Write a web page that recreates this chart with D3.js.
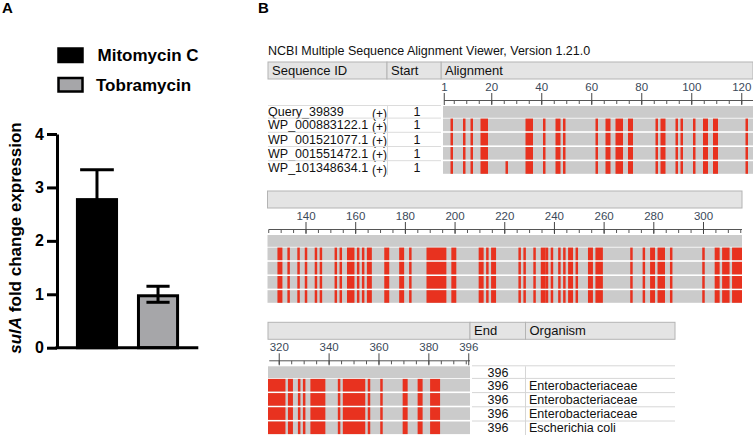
<!DOCTYPE html>
<html>
<head>
<meta charset="utf-8">
<script src="https://cdn.jsdelivr.net/npm/d3@7"></script>
<style>
  body { margin: 0; background: #fff; }
  text { font-family: "Liberation Sans", Arial, Helvetica, sans-serif; }
</style>
</head>
<body>
<svg id="fig" width="753" height="435"></svg>
<script>
// ---- panel A data
var treatments = ["Mitomycin C", "Tobramycin"];
var foldChange = [2.8, 1.0];
var foldErr = [0.53, 0.15];
var yTicks = [0, 1, 2, 3, 4];

// ---- panel B data
var seqIds = ["Query_39839", "WP_000883122.1", "WP_001521077.1", "WP_001551472.1", "WP_101348634.1"];
var seqStart = [1, 1, 1, 1, 1];
var seqEnd = [396, 396, 396, 396, 396];
var organisms = ["", "Enterobacteriaceae", "Enterobacteriaceae", "Enterobacteriaceae", "Escherichia coli"];
// mismatching stretches [from, to] shared by all hits
var sharedDiffs = [[4,4],[9,9],[12,12],[16,18],[34,36],[41,41],[46,47],[49,49],[62,62],[66,67],[70,72],[75,76],
  [86,86],[88,89],[94,94],[96,96],[101,101],[105,106],[109,110],[122,122],
  [129,130],[133,133],[137,137],[140,140],[144,144],[146,146],[152,152],[154,154],[157,159],[161,161],[163,163],
  [165,166],[172,173],[178,179],[182,182],[189,196],[199,200],[210,211],[213,213],[215,216],
  [226,226],[228,228],[232,232],[235,236],[237,237],[239,239],[242,242],[244,244],[246,247],[249,249],[254,255],
  [257,259],[271,271],[276,276],[279,280],[282,284],[287,287],[300,300],[305,306],[308,310],[312,315],
  [316,322],[324,325],[328,328],[330,330],[333,338],[344,344],[346,354],[356,356],[361,361],[370,371],[376,377],[381,384]];
var extraDiffs = [[], [], [], [], [[26, 26]]];
var sections = [[1, 124], [125, 315], [316, 396]];
var sectionLabels = [[1, 20, 40, 60, 80, 100, 120], [140, 160, 180, 200, 220, 240, 260, 280, 300], [320, 340, 360, 380, 396]];

var svg = d3.select("#fig");

// ================= panel A =================
var gA = svg.append("g");

gA.append("text").attr("x", 2).attr("y", 13).attr("font-size", 15).attr("font-weight", "bold").text("A");

var y = d3.scaleLinear().domain([0, 4]).range([347.7, 134]);
var x = d3.scaleBand().domain(treatments).range([57, 198]).paddingInner(0.31).paddingOuter(0.31);
var fills = ["#000", "#a6a6a9"];
var capW = [0.8, 0.55];

// legend
treatments.forEach(function (t, i) {
  gA.append("rect")
    .attr("x", 58.5).attr("y", 48.5 + i * 29.5).attr("width", 24).attr("height", 13.5)
    .attr("fill", fills[i]).attr("stroke", "#000").attr("stroke-width", 2.5);
  gA.append("text")
    .attr("x", i === 0 ? 97.5 : 96).attr("y", 61 + i * 29.5)
    .attr("font-size", 17).attr("font-weight", "bold").text(t);
});

// bars
gA.selectAll("rect.bar").data(treatments).enter().append("rect")
  .attr("class", "bar")
  .attr("x", function (d) { return x(d) + 1.5; })
  .attr("width", x.bandwidth() - 3)
  .attr("y", function (d, i) { return y(foldChange[i]) + 1.5; })
  .attr("height", function (d, i) { return y(0) - y(foldChange[i]) - 1.5; })
  .attr("fill", function (d, i) { return fills[i]; })
  .attr("stroke", "#000").attr("stroke-width", 3);

// error bars
treatments.forEach(function (t, i) {
  var cx = x(t) + x.bandwidth() / 2;
  var hw = x.bandwidth() * capW[i] / 2;
  var top = y(foldChange[i] + foldErr[i]), bot = y(foldChange[i] - foldErr[i]);
  gA.append("line").attr("x1", cx).attr("x2", cx).attr("y1", top).attr("y2", bot)
    .attr("stroke", "#000").attr("stroke-width", 3);
  [top, bot].forEach(function (yy) {
    gA.append("line").attr("x1", cx - hw).attr("x2", cx + hw).attr("y1", yy).attr("y2", yy)
      .attr("stroke", "#000").attr("stroke-width", 3);
  });
});

// axes
var yAxis = gA.append("g").attr("transform", "translate(57,0)")
  .call(d3.axisLeft(y).tickValues(yTicks).tickSize(10).tickSizeOuter(0).tickPadding(3).tickFormat(d3.format("d")));
yAxis.selectAll("path, line").attr("stroke", "#000").attr("stroke-width", 3);
yAxis.selectAll("text").attr("font-size", 16).attr("font-weight", "bold").attr("fill", "#000")
  .style("font-family", "'Liberation Sans', Arial, sans-serif");

gA.append("line").attr("x1", 55.5).attr("x2", 198.3).attr("y1", y(0)).attr("y2", y(0))
  .attr("stroke", "#000").attr("stroke-width", 3);

var ylab = gA.append("text")
  .attr("transform", "translate(21,238) rotate(-90)")
  .attr("text-anchor", "middle").attr("font-size", 17).attr("font-weight", "bold");
ylab.append("tspan").attr("font-style", "italic").text("sulA");
ylab.append("tspan").text(" fold change expression");

// ================= panel B =================
var gB = svg.append("g");
gB.append("text").attr("x", 258).attr("y", 13).attr("font-size", 15).attr("font-weight", "bold").text("B");
gB.append("text").attr("x", 268).attr("y", 55).attr("font-size", 12.5).attr("fill", "#111")
  .text("NCBI Multiple Sequence Alignment Viewer, Version 1.21.0");

var secTop = [62, 191, 322.3];
var secX = [[443, 753], [267.5, 742], [268, 470]];
var headFill = "#e4e4e4", headStroke = "#b4b4b4";
var grey = "#cbcbcb", red = "#e8321f";

function rowTop(H, i) { return i === 0 ? H + 44 : H + 56.6 + (i - 1) * 14.2; }
function rowH(i) { return i === 0 ? 11.8 : 12.6; }

function headerCell(x0, x1, H, label) {
  gB.append("rect").attr("x", x0).attr("y", H).attr("width", x1 - x0).attr("height", 17)
    .attr("fill", headFill).attr("stroke", headStroke).attr("stroke-width", 1);
  if (label) gB.append("text").attr("x", x0 + 4).attr("y", H + 13).attr("font-size", 13).attr("fill", "#111").text(label);
}

sections.forEach(function (sec, s) {
  var H = secTop[s];
  var xs = d3.scaleLinear().domain([sec[0] - 0.5, sec[1] + 0.5]).range(secX[s]);
  var g = gB.append("g");

  // header bar over alignment
  headerCell(s === 0 ? 441 : secX[s][0], secX[s][1], H, s === 0 ? "Alignment" : "");

  // ruler
  var axY = H + 38.5;
  g.append("line").attr("x1", xs(sec[0])).attr("x2", secX[s][1]).attr("y1", axY).attr("y2", axY)
    .attr("stroke", "#555").attr("stroke-width", 1);
  var minor = d3.range(Math.ceil(sec[0] / 5) * 5, sec[1] + 1, 5);
  g.selectAll("line.minor").data(minor).enter().append("line")
    .attr("x1", function (d) { return xs(d); }).attr("x2", function (d) { return xs(d); })
    .attr("y1", axY).attr("y2", axY + 3.5).attr("stroke", "#555");
  g.selectAll("line.major").data(sectionLabels[s]).enter().append("line")
    .attr("x1", function (d) { return xs(d); }).attr("x2", function (d) { return xs(d); })
    .attr("y1", axY - 7.5).attr("y2", axY + 4.5).attr("stroke", "#444");
  g.selectAll("text.tk").data(sectionLabels[s]).enter().append("text")
    .attr("x", function (d) { return xs(d); }).attr("y", H + 29)
    .attr("text-anchor", function (d) { return d === 1 ? "start" : "middle"; })
    .attr("dx", function (d) { return d === 1 ? -3 : 0; })
    .attr("font-size", 11.5).attr("fill", "#3b4a5a").text(function (d) { return d; });

  // sequence rows
  seqIds.forEach(function (id, i) {
    var ty = rowTop(H, i);
    g.append("rect").attr("x", secX[s][0]).attr("y", ty).attr("width", secX[s][1] - secX[s][0]).attr("height", rowH(i))
      .attr("fill", grey);
    if (i === 0) return;
    var diffs = sharedDiffs.concat(extraDiffs[i]).filter(function (d) { return d[1] >= sec[0] && d[0] <= sec[1]; });
    g.selectAll("rect.d" + i).data(diffs).enter().append("rect")
      .attr("x", function (d) { return xs(Math.max(d[0], sec[0]) - 0.5); })
      .attr("width", function (d) { return xs(Math.min(d[1], sec[1]) + 0.5) - xs(Math.max(d[0], sec[0]) - 0.5); })
      .attr("y", ty).attr("height", rowH(i)).attr("fill", red);
  });
});

// sequence id / start columns (section 1)
(function () {
  var H = secTop[0];
  headerCell(268, 387, H, "Sequence ID");
  headerCell(387, 441, H, "Start");
  seqIds.forEach(function (id, i) {
    var ty = rowTop(H, i), cy = ty + rowH(i) / 2;
    gB.append("line").attr("x1", 268).attr("x2", 441).attr("y1", ty - 0.5).attr("y2", ty - 0.5).attr("stroke", "#dcdcdc");
    gB.append("text").attr("x", 268).attr("y", cy + 4.5).attr("font-size", 12.5).attr("fill", "#111").text(id);
    gB.append("text").attr("x", 372).attr("y", cy + 6).attr("font-size", 12).attr("fill", "#111").text("(+)");
    gB.append("text").attr("x", 417).attr("y", cy + 4.5).attr("text-anchor", "middle").attr("font-size", 12.5)
      .attr("fill", "#111").text(seqStart[i]);
  });
  gB.append("line").attr("x1", 387.5).attr("x2", 387.5).attr("y1", H + 44).attr("y2", 175).attr("stroke", "#dcdcdc");
})();

// end / organism columns (section 3)
(function () {
  var H = secTop[2];
  headerCell(470, 525.5, H, "End");
  headerCell(525.5, 675, H, "Organism");
  seqIds.forEach(function (id, i) {
    var ty = rowTop(H, i), cy = ty + rowH(i) / 2;
    gB.append("line").attr("x1", 472).attr("x2", 675).attr("y1", ty - 0.5).attr("y2", ty - 0.5).attr("stroke", "#d6d6d6");
    gB.append("text").attr("x", 498).attr("y", cy + 4.5).attr("text-anchor", "middle").attr("font-size", 12.5)
      .attr("fill", "#111").text(seqEnd[i]);
    gB.append("text").attr("x", 529).attr("y", cy + 4.5).attr("font-size", 12.5).attr("fill", "#111").text(organisms[i]);
  });
  gB.append("line").attr("x1", 525.5).attr("x2", 525.5).attr("y1", H + 44).attr("y2", 435).attr("stroke", "#d6d6d6");
})();
</script>
</body>
</html>
